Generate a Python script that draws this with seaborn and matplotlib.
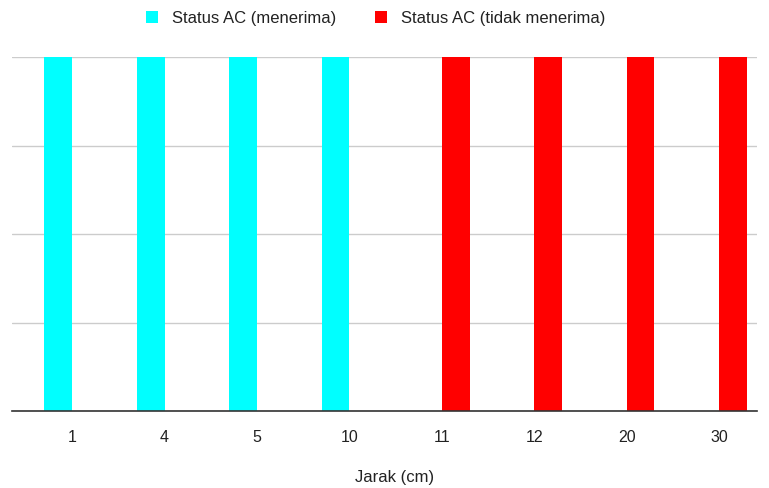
import pandas as pd
import matplotlib.pyplot as plt
import seaborn as sns

# data
jarak = ['1', '4', '5', '10', '11', '12', '20', '30']
menerima = [1, 1, 1, 1, 0, 0, 0, 0]
tidak_menerima = [0, 0, 0, 0, 1, 1, 1, 1]
series_names = ['Status AC (menerima)', 'Status AC (tidak menerima)']
colors = ['#00ffff', '#ff0000']

df = pd.DataFrame({
    'Jarak': jarak * 2,
    'Status': [series_names[0]] * len(jarak) + [series_names[1]] * len(jarak),
    'Nilai': menerima + tidak_menerima,
})

sns.set_theme(style='white')
plt.rcParams['font.family'] = ['Liberation Sans', 'DejaVu Sans']

fig = plt.figure(figsize=(7.69, 4.88), dpi=100)
ax = fig.add_axes([12 / 769, 1 - 411 / 488, 745 / 769, 354 / 488])

sns.barplot(data=df, x='Jarak', y='Nilai', hue='Status', order=jarak,
            hue_order=series_names, palette=colors, width=0.6, gap=0,
            linewidth=0, saturation=1, ax=ax)

ax.set_xlim(-0.65, 7.41)
ax.set_ylim(0, 1)
ax.set_yticks([0, 0.25, 0.5, 0.75, 1])
ax.set_yticklabels([])
ax.tick_params(axis='y', length=0)
ax.tick_params(axis='x', length=0, pad=14, labelsize=11.5, labelcolor='#222222')
ax.grid(axis='y', color='#cccccc', linewidth=1)
ax.set_axisbelow(True)
for side in ['top', 'right', 'left']:
    ax.spines[side].set_visible(False)
ax.spines['bottom'].set_color('#333333')
ax.spines['bottom'].set_linewidth(1.2)

ax.set_ylabel('')
ax.set_xlabel('Jarak (cm)', fontsize=12, color='#222222')
ax.xaxis.set_label_coords(0.514, -0.189)
ax.xaxis.label.set_va('center')

sns.move_legend(ax, 'center', bbox_to_anchor=(0.488, 1.11), ncol=2,
                frameon=False, title=None, fontsize=12, handlelength=0.72,
                handleheight=0.72, columnspacing=2.3, handletextpad=0.84)
for t in ax.get_legend().get_texts():
    t.set_color('#222222')

plt.savefig('out.png', dpi=100)
